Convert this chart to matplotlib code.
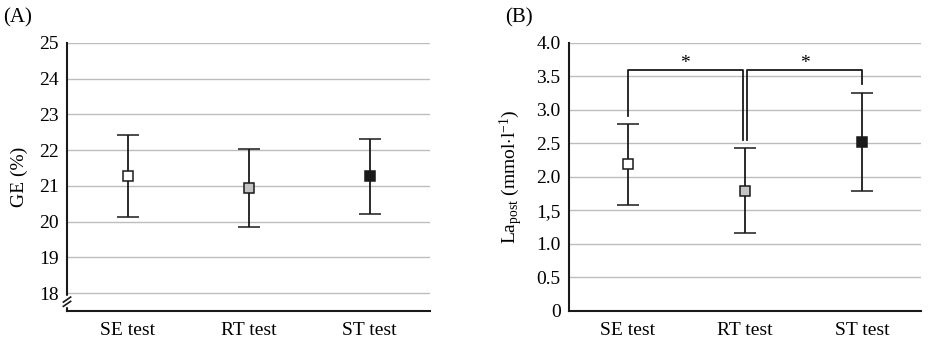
import matplotlib
matplotlib.use("Agg")
import matplotlib.pyplot as plt

plt.rcParams['font.family'] = ['Liberation Serif', 'DejaVu Serif']
plt.rcParams['mathtext.fontset'] = 'custom'
plt.rcParams['mathtext.rm'] = 'Liberation Serif'
plt.rcParams['mathtext.it'] = 'Liberation Serif:italic'

categories = ["SE test", "RT test", "ST test"]
marker_colors = ["white", "#c4c4c4", "#1a1a1a"]

ge_mean = [21.27, 20.93, 21.28]
ge_upper = [22.43, 22.03, 22.32]
ge_lower = [20.13, 19.85, 20.22]
ge_ticks = [18, 19, 20, 21, 22, 23, 24, 25]

la_mean = [2.19, 1.79, 2.52]
la_upper = [2.79, 2.43, 3.26]
la_lower = [1.58, 1.17, 1.79]
la_ticks = [0, 0.5, 1.0, 1.5, 2.0, 2.5, 3.0, 3.5, 4.0]
la_ticklabels = ["0", "0.5", "1.0", "1,5", "2.0", "2.5", "3.0", "3.5", "4.0"]

fs = 14
fig = plt.figure(figsize=(9.32, 3.41), dpi=100)
axA = fig.add_axes([0.0719, 0.088, 0.3895, 0.786])
axB = fig.add_axes([0.6105, 0.088, 0.3775, 0.786])

def draw(ax, mean, upper, lower):
    x = range(len(categories))
    for i in x:
        yerr = [[mean[i] - lower[i]], [upper[i] - mean[i]]]
        ax.errorbar([i], [mean[i]], yerr=yerr, fmt='s', color='#1a1a1a',
                    mfc=marker_colors[i], mec='#1a1a1a', mew=1.1, ms=7.5,
                    capsize=8, elinewidth=1.3, capthick=1.3, zorder=3)
    ax.set_xlim(-0.5, 2.5)
    ax.set_xticks(list(x))
    ax.set_xticklabels(categories, fontsize=fs)
    for s in ['top', 'right']:
        ax.spines[s].set_visible(False)
    for s in ['left', 'bottom']:
        ax.spines[s].set_linewidth(1.5)
        ax.spines[s].set_color('#1a1a1a')
    ax.tick_params(axis='both', length=0, labelsize=fs, pad=6)
    ax.tick_params(axis='x', pad=8)
    ax.grid(axis='y', color='#bdbdbd', linewidth=1.0, zorder=0)
    ax.set_axisbelow(True)

draw(axA, ge_mean, ge_upper, ge_lower)
axA.set_ylim(17.5, 25)
axA.set_yticks(ge_ticks)
axA.set_ylabel("GE (%)", fontsize=fs, labelpad=8)
# axis break marks
axA.plot([-0.5, -0.5], [17.66, 17.90], color='white', lw=2.5, clip_on=False, zorder=4)
for dy in (0.0, 0.12):
    axA.plot([-0.53, -0.47], [17.70 + dy - 0.07, 17.70 + dy + 0.07], color='#1a1a1a',
             lw=1.2, clip_on=False, zorder=5)

draw(axB, la_mean, la_upper, la_lower)
axB.set_ylim(0, 4.0)
axB.set_yticks(la_ticks)
axB.set_yticklabels(la_ticklabels)
axB.set_ylabel(r"La$_{\mathrm{post}}$ (mmol$\cdot$l$^{\mathrm{-1}}$)", fontsize=fs, labelpad=8)

# significance brackets
bk = dict(color='#1a1a1a', lw=1.3, zorder=4)
top = 3.6
axB.plot([0, 0, 0.98, 0.98], [2.91, top, top, 2.55], **bk)
axB.plot([1.02, 1.02, 2, 2], [2.55, top, top, 3.39], **bk)
axB.text(0.49, 3.70, "*", ha='center', va='center', fontsize=fs)
axB.text(1.51, 3.70, "*", ha='center', va='center', fontsize=fs)

fig.text(0.003, 0.975, "(A)", fontsize=fs + 1, ha='left', va='top')
fig.text(0.542, 0.975, "(B)", fontsize=fs + 1, ha='left', va='top')

fig.savefig("out.png", dpi=100)
